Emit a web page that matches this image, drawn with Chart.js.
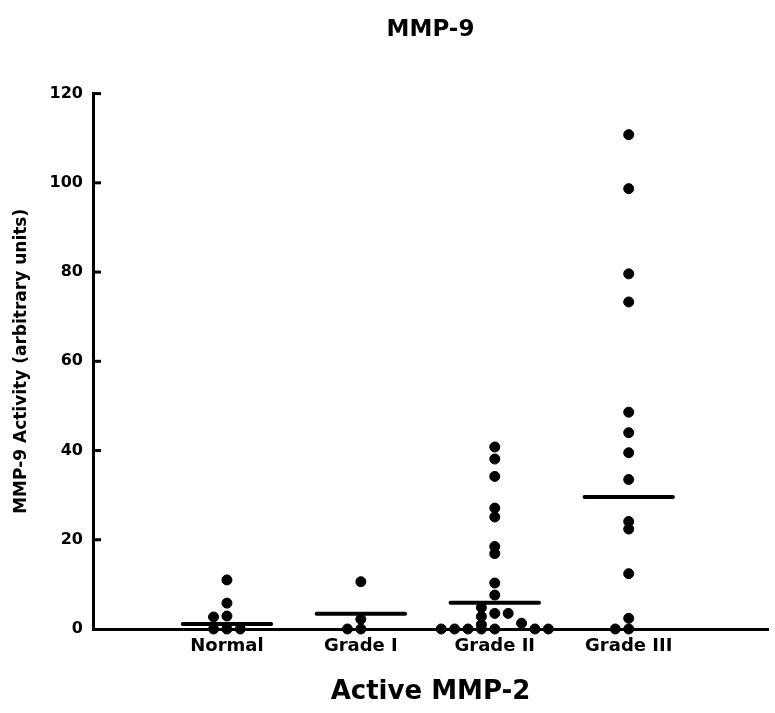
<!DOCTYPE html>
<html>
<head>
<meta charset="utf-8">
<script src="https://cdn.jsdelivr.net/npm/chart.js@4"></script>
<style>
  body { margin: 0; background: #fff; }
  #wrap { width: 775px; height: 713px; }
</style>
</head>
<body>
<div id="wrap"><canvas id="myChart"></canvas></div>
<script>
// groups on the x axis
var categories = ["Normal", "Grade I", "Grade II", "Grade III"];
var yTicks = [0, 20, 40, 60, 80, 100, 120];

// MMP-9 activity per sample
var normalValues = [11.0, 5.8, 2.9, 2.7, 0, 0, 0];
var grade1Values = [10.6, 2.2, 0, 0];
var grade2Values = [40.8, 38.1, 34.2, 27.1, 25.1, 18.5, 16.9, 10.3, 7.6, 3.5, 0,
                    4.8, 2.8, 1.0, 0, 3.5, 1.3, 0, 0, 0, 0, 0];
var grade3Values = [110.8, 98.7, 79.6, 73.3, 48.6, 44.0, 39.5, 33.5, 24.1, 22.4, 12.4, 2.4, 0, 0];

// side-by-side spread of tied points (in category units)
var normalSpread = [0, 0, 0, -0.1, -0.1, 0, 0.1];
var grade1Spread = [0, 0, -0.1, 0];
var grade2Spread = [0, 0, 0, 0, 0, 0, 0, 0, 0, 0, 0,
                    -0.1, -0.1, -0.1, -0.1, 0.1, 0.2, 0.3, 0.4, -0.2, -0.3, -0.4];
var grade3Spread = [0, 0, 0, 0, 0, 0, 0, 0, 0, 0, 0, 0, -0.1, 0];

// horizontal bar drawn for each group
var groupLines = [1.1, 3.4, 5.9, 29.6];

var groups = [normalValues, grade1Values, grade2Values, grade3Values];
var spreads = [normalSpread, grade1Spread, grade2Spread, grade3Spread];

var points = [];
groups.forEach(function (vals, g) {
    vals.forEach(function (v, i) {
        points.push({ x: g + 1 + spreads[g][i], y: v });
    });
});

var datasets = [];
groupLines.forEach(function (v, g) {
    datasets.push({
        type: 'line',
        data: [{ x: g + 1 - 0.33, y: v }, { x: g + 1 + 0.33, y: v }],
        borderColor: '#000',
        borderWidth: 4,
        borderCapStyle: 'round',
        pointRadius: 0,
        clip: false
    });
});
datasets.push({
    type: 'scatter',
    data: points,
    backgroundColor: '#000',
    borderColor: '#000',
    pointRadius: 5,
    pointHoverRadius: 5,
    clip: false
});

var innerTicks = {
    id: 'innerTicks',
    afterDraw: function (chart) {
        var y = chart.scales.y;
        var c = chart.ctx;
        c.save();
        c.strokeStyle = '#000';
        c.lineWidth = 3;
        yTicks.forEach(function (t) {
            if (t === 0) return;
            var py = y.getPixelForValue(t);
            c.beginPath();
            c.moveTo(y.right, py);
            c.lineTo(y.right + 8, py);
            c.stroke();
        });
        c.restore();
    }
};

var ctx = document.getElementById("myChart");
var myChart = new Chart(ctx, {
    type: 'scatter',
    data: { datasets: datasets },
    options: {
        responsive: true,
        maintainAspectRatio: false,
        animation: false,
        events: [],
        layout: { padding: { left: 0, right: 7, top: 0, bottom: 0 } },
        plugins: {
            legend: { display: false },
            tooltip: { enabled: false },
            title: {
                display: true,
                text: 'MMP-9',
                color: '#000',
                fullSize: false,
                font: { family: 'DejaVu Sans', size: 23, weight: 'bold' },
                padding: { top: 16, bottom: 50 }
            }
        },
        scales: {
            x: {
                type: 'linear',
                min: 0,
                max: 5.04,
                afterBuildTicks: function (s) {
                    s.ticks = categories.map(function (c, i) { return { value: i + 1 }; });
                },
                afterFit: function (s) { s.height = 84; },
                grid: { display: false, drawTicks: false },
                border: { display: true, color: '#000', width: 3 },
                ticks: {
                    color: '#000',
                    padding: 7,
                    maxRotation: 0,
                    autoSkip: false,
                    font: { family: 'DejaVu Sans', size: 18, weight: 'bold' },
                    callback: function (v) { return categories[Math.round(v) - 1]; }
                },
                title: {
                    display: true,
                    text: 'Active MMP-2',
                    color: '#000',
                    font: { family: 'DejaVu Sans', size: 26, weight: 'bold' },
                    padding: { top: 0, bottom: 5 }
                }
            },
            y: {
                min: 0,
                max: 120,
                afterBuildTicks: function (s) {
                    s.ticks = yTicks.map(function (v) { return { value: v }; });
                },
                afterFit: function (s) { s.width = 93; },
                grid: { display: false, drawTicks: false },
                border: { display: true, color: '#000', width: 3 },
                ticks: {
                    color: '#000',
                    padding: 10,
                    font: { family: 'DejaVu Sans', size: 16, weight: 'bold' }
                },
                title: {
                    display: true,
                    text: 'MMP-9 Activity (arbitrary units)',
                    color: '#000',
                    font: { family: 'DejaVu Sans', size: 17, weight: 'bold' },
                    padding: { top: 11, bottom: 0 }
                }
            }
        }
    },
    plugins: [innerTicks]
});
</script>
</body>
</html>
